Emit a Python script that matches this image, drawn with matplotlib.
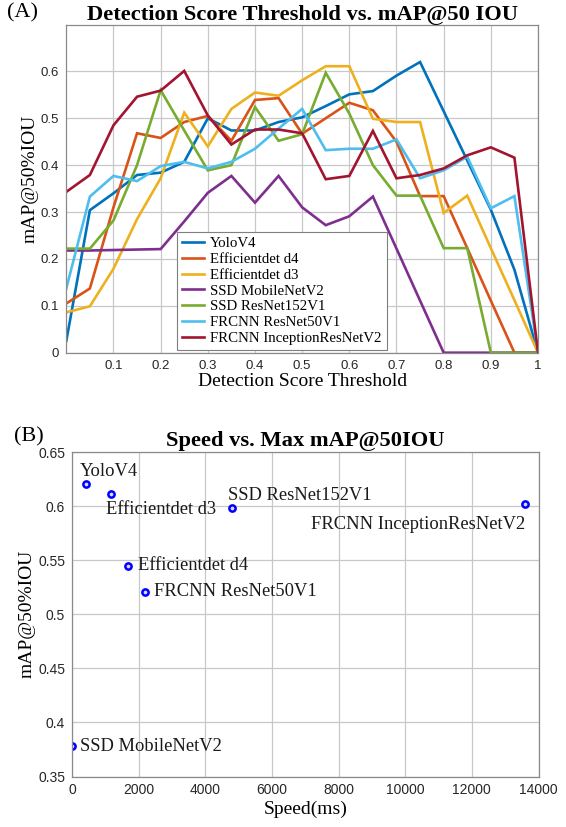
import matplotlib
matplotlib.use("Agg")
import matplotlib.pyplot as plt
from matplotlib.ticker import FixedLocator

# ---------------- data ----------------
thresholds = [0.00, 0.05, 0.10, 0.15, 0.20, 0.25, 0.30, 0.35, 0.40, 0.45, 0.50,
              0.55, 0.60, 0.65, 0.70, 0.75, 0.80, 0.85, 0.90, 0.95, 1.00]

yolov4 = [0.025, 0.304, 0.340, 0.379, 0.384, 0.407, 0.500, 0.474, 0.474, 0.492, 0.502,
          0.526, 0.551, 0.558, 0.591, 0.620, 0.515, 0.410, 0.305, 0.177, 0.0]
effdet_d4 = [0.105, 0.137, 0.310, 0.468, 0.458, 0.492, 0.505, 0.452, 0.539, 0.543, 0.467,
             0.500, 0.533, 0.517, 0.450, 0.334, 0.334, 0.223, 0.111, 0.0, 0.0]
effdet_d3 = [0.086, 0.099, 0.179, 0.285, 0.372, 0.512, 0.440, 0.520, 0.555, 0.548, 0.581,
             0.611, 0.611, 0.499, 0.492, 0.492, 0.298, 0.335, 0.223, 0.112, 0.0]
ssd_mobilenet = [0.218, 0.218, 0.219, 0.220, 0.221, 0.280, 0.341, 0.377, 0.320, 0.377, 0.310,
                 0.272, 0.291, 0.333, 0.222, 0.111, 0.0, 0.0, 0.0, 0.0, 0.0]
ssd_resnet152 = [0.222, 0.222, 0.282, 0.400, 0.560, 0.474, 0.389, 0.400, 0.524, 0.452, 0.466,
                 0.597, 0.510, 0.400, 0.335, 0.335, 0.223, 0.223, 0.0, 0.0, 0.0]
frcnn_resnet50 = [0.137, 0.333, 0.377, 0.366, 0.398, 0.407, 0.393, 0.407, 0.435, 0.478, 0.520,
                  0.432, 0.435, 0.435, 0.455, 0.372, 0.389, 0.418, 0.308, 0.334, 0.0]
frcnn_inception = [0.343, 0.379, 0.485, 0.546, 0.559, 0.601, 0.506, 0.444, 0.476, 0.476, 0.468,
                   0.370, 0.377, 0.473, 0.372, 0.379, 0.393, 0.421, 0.438, 0.416, 0.0]

series_names = ["YoloV4", "Efficientdet d4", "Efficientdet d3", "SSD MobileNetV2",
                "SSD ResNet152V1", "FRCNN ResNet50V1", "FRCNN InceptionResNetV2"]
series_values = [yolov4, effdet_d4, effdet_d3, ssd_mobilenet,
                 ssd_resnet152, frcnn_resnet50, frcnn_inception]

x_ticks_a = [0.1, 0.2, 0.3, 0.4, 0.5, 0.6, 0.7, 0.8, 0.9, 1.0]
x_ticklabels_a = ["0.1", "0.2", "0.3", "0.4", "0.5", "0.6", "0.7", "0.8", "0.9", "1"]
y_ticks_a = [0, 0.1, 0.2, 0.3, 0.4, 0.5, 0.6]
y_ticklabels_a = ["0", "0.1", "0.2", "0.3", "0.4", "0.5", "0.6"]

models = ["YoloV4", "Efficientdet d3", "SSD ResNet152V1", "FRCNN InceptionResNetV2",
          "Efficientdet d4", "FRCNN ResNet50V1", "SSD MobileNetV2"]
speed_ms = [410, 1170, 4790, 13600, 1670, 2190, 10]
max_map = [0.620, 0.611, 0.598, 0.602, 0.545, 0.521, 0.378]

x_ticks_b = [0, 2000, 4000, 6000, 8000, 10000, 12000, 14000]
y_ticks_b = [0.35, 0.40, 0.45, 0.50, 0.55, 0.60, 0.65]
y_ticklabels_b = ["0.35", "0.4", "0.45", "0.5", "0.55", "0.6", "0.65"]

# ---------------- style ----------------
colors = ["#0072BD", "#D95319", "#EDB120", "#7E2F8E", "#77AC30", "#4DBEEE", "#A2142F"]
serif = ["Liberation Serif", "DejaVu Serif"]
sans = ["Liberation Sans", "DejaVu Sans"]
grid_col = "#c8c8c8"
spine_col = "#8a8a8a"

# label placement (pixel offsets, ha, va)
label_layout = {
    "YoloV4": (-6, 13, "left", "center"),
    "Efficientdet d3": (-5, -15, "left", "center"),
    "SSD ResNet152V1": (-4, 13, "left", "center"),
    "FRCNN InceptionResNetV2": (0, -21, "right", "center"),
    "Efficientdet d4": (10, 0, "left", "center"),
    "FRCNN ResNet50V1": (9, 0, "left", "center"),
    "SSD MobileNetV2": (8, 0, "left", "center"),
}

W, H = 566, 827
fig = plt.figure(figsize=(W / 100, H / 100), dpi=100)
fig.patch.set_facecolor("white")


def frac_axes(left_px, top_px, right_px, bottom_px):
    return fig.add_axes([left_px / W, 1 - bottom_px / H,
                         (right_px - left_px) / W, (bottom_px - top_px) / H])


def style_axes(ax, labelsize):
    ax.grid(True, color=grid_col, linewidth=0.9)
    ax.set_axisbelow(True)
    for s in ax.spines.values():
        s.set_color(spine_col)
        s.set_linewidth(0.9)
    ax.tick_params(direction="in", length=0, pad=5, labelsize=labelsize, colors="#262626")
    for lab in ax.get_xticklabels() + ax.get_yticklabels():
        lab.set_family(sans)


# ---------------- panel A ----------------
axA = frac_axes(66.3, 24.5, 538, 352.7)
for name, vals, c in zip(series_names, series_values, colors):
    axA.plot(thresholds, vals, color=c, linewidth=1.9, label=name, solid_joinstyle="miter")
axA.set_xlim(0, 1)
axA.set_ylim(0, 0.7)
axA.xaxis.set_major_locator(FixedLocator(x_ticks_a))
axA.set_xticklabels(x_ticklabels_a)
axA.yaxis.set_major_locator(FixedLocator(y_ticks_a))
axA.set_yticklabels(y_ticklabels_a)
style_axes(axA, 9.5)
axA.set_title("Detection Score Threshold vs. mAP@50 IOU", family=serif,
              fontsize=16.2, fontweight="bold", pad=3)
axA.set_xlabel("Detection Score Threshold", family=serif, fontsize=14, labelpad=1)
axA.set_ylabel("mAP@50%IOU", family=serif, fontsize=14)
axA.yaxis.set_label_coords(-0.058, 0.53)
leg = axA.legend(loc="lower left", bbox_to_anchor=(0.234, 0.008), prop={"family": serif, "size": 10.7},
                 frameon=True, fancybox=False, edgecolor="#7f7f7f", framealpha=1,
                 handlelength=1.5, handletextpad=0.4, labelspacing=0.16, borderpad=0.35,
                 borderaxespad=0)
leg.get_frame().set_linewidth(0.8)

# ---------------- panel B ----------------
axB = frac_axes(72, 452, 538.5, 776.5)
axB.plot(speed_ms, max_map, linestyle="none", marker="o", markersize=4.5,
         markerfacecolor="#d8d8ff", markeredgecolor="#0000ff", markeredgewidth=1.8)
for m, sx, sy in zip(models, speed_ms, max_map):
    dx, dy, ha, va = label_layout[m]
    axB.annotate(m, (sx, sy), xytext=(dx, dy), textcoords="offset pixels",
                 ha=ha, va=va, family=serif, fontsize=13.3, color="#1a1a1a")
axB.set_xlim(0, 14000)
axB.set_ylim(0.35, 0.65)
axB.xaxis.set_major_locator(FixedLocator(x_ticks_b))
axB.set_xticklabels([str(v) for v in x_ticks_b])
axB.yaxis.set_major_locator(FixedLocator(y_ticks_b))
axB.set_yticklabels(y_ticklabels_b)
style_axes(axB, 10)
axB.set_title("Speed vs. Max mAP@50IOU", family=serif, fontsize=16.2, fontweight="bold", pad=4)
axB.set_xlabel("Speed(ms)", family=serif, fontsize=14, labelpad=2)
axB.set_ylabel("mAP@50%IOU", family=serif, fontsize=14)
axB.yaxis.set_label_coords(-0.079, 0.5)

fig.text(7 / W, 1 - 13 / H, "(A)", family=serif, fontsize=16, ha="left", va="center")
fig.text(14 / W, 1 - 437 / H, "(B)", family=serif, fontsize=16, ha="left", va="center")

fig.savefig("out.png", dpi=100, facecolor="white")
